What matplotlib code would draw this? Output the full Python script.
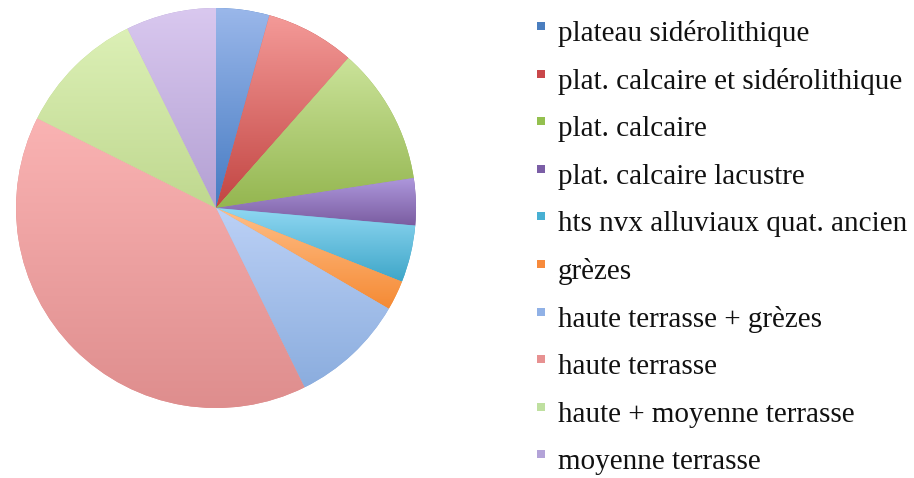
import numpy as np
import matplotlib
matplotlib.use("Agg")
import matplotlib.pyplot as plt
from matplotlib.colors import to_rgb
from matplotlib.patches import Rectangle

# Share of each landform (percent), clockwise from 12 o'clock
labels = [
    "plateau sidérolithique",
    "plat. calcaire et sidérolithique",
    "plat. calcaire",
    "plat. calcaire lacustre",
    "hts nvx alluviaux quat. ancien",
    "grèzes",
    "haute terrasse + grèzes",
    "haute terrasse",
    "haute + moyenne terrasse",
    "moyenne terrasse",
]
values = [4.3, 7.2, 11.1, 3.8, 4.6, 2.4, 9.3, 39.7, 10.3, 7.3]

# Light (top) and dark (bottom) shade of each slice's linear fill
top_colors = ["#9ab7ea", "#f49a98", "#cbe39a", "#ad97dc", "#8fd7f2",
              "#ffbf88", "#bcd1f6", "#fab3b3", "#dcf0b6", "#d9c8ef"]
bottom_colors = ["#467bc2", "#c24542", "#94b650", "#7a5ca0", "#3ea6c8",
                 "#f58a34", "#8badde", "#de8d8d", "#bfd88f", "#b3a0d3"]
legend_colors = ["#4a7ebf", "#c9474a", "#94c04f", "#7b5ea6", "#48b0d3",
                 "#f78a3c", "#90b1e6", "#e79191", "#bfe0a0", "#b3a3d8"]

W, H = 914, 478
fig = plt.figure(figsize=(W / 100, H / 100), dpi=100)
fig.patch.set_facecolor("white")

cx, cy, r = 216, 208, 200
ax = fig.add_axes([(cx - r) / W, (H - cy - r) / H, 2 * r / W, 2 * r / H])
wedges, _ = ax.pie(values, startangle=90, counterclock=False, radius=1.0,
                   colors=bottom_colors, wedgeprops=dict(linewidth=0))

# Vertical gradient clipped to each wedge
for w, ct, cb in zip(wedges, top_colors, bottom_colors):
    verts = w.get_path().vertices
    x0, y0 = verts.min(axis=0)
    x1, y1 = verts.max(axis=0)
    t = np.linspace(0, 1, 256)[:, None]
    c0, c1 = np.array(to_rgb(ct)), np.array(to_rgb(cb))
    grad = (c0[None, :] * (1 - t) + c1[None, :] * t)[:, None, :]
    im = ax.imshow(grad, extent=[x0, x1, y0, y1], origin="upper",
                   aspect="auto", interpolation="bilinear", zorder=2)
    im.set_clip_path(w)

ax.set_xlim(-1, 1)
ax.set_ylim(-1, 1)
ax.set_aspect("equal")
ax.axis("off")

# Legend entries drawn in figure pixel space
base_first, y_step = 41, 47.6
for i, (lab, col) in enumerate(zip(labels, legend_colors)):
    yb = base_first + i * y_step
    sq = 8
    sq_top = yb - 19
    fig.patches.append(Rectangle((537 / W, (H - sq_top - sq) / H), sq / W, sq / H,
                                 transform=fig.transFigure, facecolor=col,
                                 edgecolor="none"))
    fig.text(558 / W, (H - yb) / H, lab, family="Liberation Serif",
             fontsize=21, color="#111111", va="baseline", ha="left")

fig.savefig("out.png", dpi=100)
